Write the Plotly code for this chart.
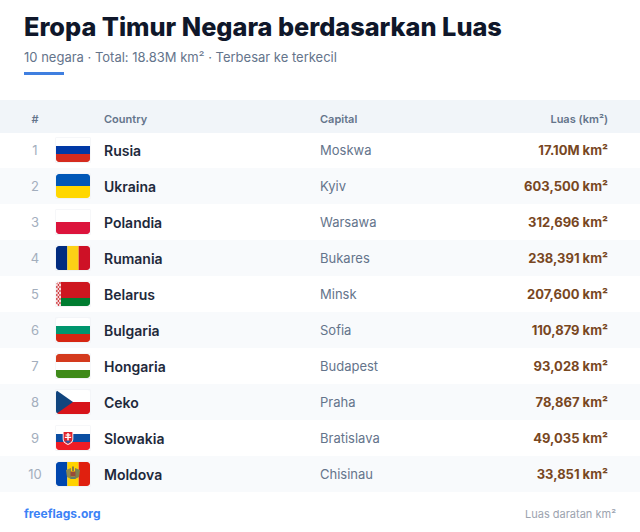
import plotly.graph_objects as go

# ---- data ----
ranks = [1, 2, 3, 4, 5, 6, 7, 8, 9, 10]
countries = ["Rusia", "Ukraina", "Polandia", "Rumania", "Belarus", "Bulgaria", "Hongaria", "Ceko", "Slowakia", "Moldova"]
capitals = ["Moskwa", "Kyiv", "Warsawa", "Bukares", "Minsk", "Sofia", "Budapest", "Praha", "Bratislava", "Chisinau"]
areas = ["17.10M km²", "603,500 km²", "312,696 km²", "238,391 km²", "207,600 km²", "110,879 km²", "93,028 km²", "78,867 km²", "49,035 km²", "33,851 km²"]
headers = ["#", "Country", "Capital", "Luas (km²)"]
title = "Eropa Timur Negara berdasarkan Luas"
subtitle = "10 negara · Total: 18.83M km² · Terbesar ke terkecil"
source = "freeflags.org"
note = "Luas daratan km²"

# stripes: (orientation, colours)
flag_stripes = {
    "Rusia": ("h", ["#ffffff", "#0039a6", "#d52b1e"]),
    "Ukraina": ("h", ["#0057b7", "#ffd700"]),
    "Polandia": ("h", ["#ffffff", "#dc143c"]),
    "Rumania": ("v", ["#002b7f", "#fcd116", "#ce1126"]),
    "Belarus": ("h", ["#ce1720", "#ce1720", "#007c30"]),
    "Bulgaria": ("h", ["#ffffff", "#00966e", "#d62612"]),
    "Hongaria": ("h", ["#d43a1e", "#ffffff", "#3f8a1a"]),
    "Ceko": ("h", ["#ffffff", "#d7141a"]),
    "Slowakia": ("h", ["#ffffff", "#0b4ea2", "#ee1c25"]),
    "Moldova": ("v", ["#0046ae", "#ffd200", "#e0200f"]),
}

W, H = 640, 532
ROW0, ROWH = 150, 36
FX0, FW, FH = 56, 34, 24
shapes = []


def rect(x0, y0, x1, y1, color):
    shapes.append(dict(type="rect", xref="x", yref="y", x0=x0, y0=y0, x1=x1, y1=y1,
                       fillcolor=color, line=dict(width=0), layer="below"))


def path(d, color):
    shapes.append(dict(type="path", xref="x", yref="y", path=d, fillcolor=color,
                       line=dict(width=0), layer="below"))


def poly(pts, color):
    path("M " + " L ".join(f"{x},{y}" for x, y in pts) + " Z", color)


def row_y(i):
    return ROW0 + ROWH * i


# page furniture
rect(24, 72, 64, 75, "#3f7fe0")
rect(0, 100, W, 133, "#f1f5f9")
for i in range(10):
    if i % 2 == 1:
        rect(0, row_y(i) - 18, W, row_y(i) + 18, "#f8fafc")


def corners(x0, y0, x1, y1, bg, r=3):
    k = r * 0.45
    path(f"M {x0},{y0} L {x0+r},{y0} C {x0+k},{y0} {x0},{y0+k} {x0},{y0+r} Z", bg)
    path(f"M {x1},{y0} L {x1-r},{y0} C {x1-k},{y0} {x1},{y0+k} {x1},{y0+r} Z", bg)
    path(f"M {x0},{y1} L {x0+r},{y1} C {x0+k},{y1} {x0},{y1-k} {x0},{y1-r} Z", bg)
    path(f"M {x1},{y1} L {x1-r},{y1} C {x1-k},{y1} {x1},{y1-k} {x1},{y1-r} Z", bg)


for i, name in enumerate(countries):
    cy = row_y(i)
    y0, y1 = cy - FH / 2, cy + FH / 2
    x0, x1 = FX0, FX0 + FW
    bg = "#f8fafc" if i % 2 else "#ffffff"
    # soft shadow
    rect(x0 - 0.5, y0 - 0.5, x1 + 0.5, y1 + 0.8, "#eef0f3")
    orient, cols = flag_stripes[name]
    n = len(cols)
    for j, c in enumerate(cols):
        if orient == "h":
            rect(x0, y0 + FH * j / n, x1, y0 + FH * (j + 1) / n, c)
        else:
            rect(x0 + FW * j / n, y0, x0 + FW * (j + 1) / n, y1, c)
    if name == "Belarus":
        rect(x0, y0, x0 + 5, y1, "#f6dcdc")
        for k in range(12):
            for m in range(3):
                if (k + m) % 2 == 0:
                    rect(x0 + 0.2 + m * 1.55, y0 + k * 2, x0 + 1.5 + m * 1.55, y0 + (k + 1) * 2, "#cf3a40")
    if name == "Ceko":
        poly([(x0, y0), (x0 + 17, cy), (x0, y1)], "#11457e")
    if name == "Slowakia":
        sx = x0 + 12
        path(f"M {sx-5.3},{cy-7} L {sx+5.3},{cy-7} L {sx+5.3},{cy+1} C {sx+5.3},{cy+4.5} {sx+2},{cy+6} {sx},{cy+7} "
             f"C {sx-2},{cy+6} {sx-5.3},{cy+4.5} {sx-5.3},{cy+1} Z", "#ffffff")
        path(f"M {sx-4.4},{cy-6.1} L {sx+4.4},{cy-6.1} L {sx+4.4},{cy+1} C {sx+4.4},{cy+3.8} {sx+2},{cy+5} {sx},{cy+6} "
             f"C {sx-2},{cy+5} {sx-4.4},{cy+3.8} {sx-4.4},{cy+1} Z", "#e0242c")
        rect(sx - 0.7, cy - 5, sx + 0.7, cy + 2.5, "#ffffff")
        rect(sx - 2.4, cy - 3.6, sx + 2.4, cy - 2.4, "#ffffff")
        rect(sx - 3.2, cy - 1.2, sx + 3.2, cy, "#ffffff")
        path(f"M {sx-3.4},{cy+2.8} L {sx+3.4},{cy+2.8} L {sx},{cy+5.6} Z", "#2a5aa8")
    if name == "Moldova":
        mx = x0 + FW / 2
        poly([(mx - 7, cy - 4), (mx - 2, cy - 6), (mx - 2, cy + 5), (mx - 6, cy + 3)], "#8f8a4c")
        poly([(mx + 7, cy - 4), (mx + 2, cy - 6), (mx + 2, cy + 5), (mx + 6, cy + 3)], "#7f8250")
        rect(mx - 2.5, cy - 2.5, mx + 2.5, cy + 2.5, "#9a4a38")
        rect(mx - 2.5, cy + 2.5, mx + 2.5, cy + 5, "#5f7f70")
        rect(mx - 1, cy - 7.5, mx + 1, cy - 3, "#8c7a44")
    corners(x0, y0, x1, y1, bg)

TEXT_DY = 1.5
row_ys = [row_y(i) + TEXT_DY for i in range(10)]


def col(xs, ys, texts, pos, size, color, weight=400):
    return go.Scatter(x=xs, y=ys, text=texts, mode="text", textposition=pos, hoverinfo="skip",
                      showlegend=False, cliponaxis=False,
                      textfont=dict(family="Inter", size=size, color=color, weight=weight))


fig = go.Figure()
fig.add_trace(col([35] * 10, row_ys, [str(r) for r in ranks], "middle center", 13, "#a3aebd"))
fig.add_trace(col([104] * 10, [y + 0.5 for y in row_ys], countries, "middle right", 14, "#1e293b", 600))
fig.add_trace(col([320] * 10, row_ys, capitals, "middle right", 13, "#64748b"))
fig.add_trace(col([608] * 10, row_ys, areas, "middle left", 13, "#78471f", 700))
fig.add_trace(col([35], [120], [headers[0]], "middle center", 11, "#64748b", 600))
fig.add_trace(col([104], [120], [headers[1]], "middle right", 11, "#64748b", 600))
fig.add_trace(col([320], [120], [headers[2]], "middle right", 11, "#64748b", 600))
fig.add_trace(col([608], [120], [headers[3]], "middle left", 11, "#64748b", 600))
fig.add_trace(col([24], [30], [title], "middle right", 25.3, "#0f172a", 800))
fig.add_trace(col([24], [58.5], [subtitle], "middle right", 13, "#64748b"))
fig.add_trace(col([24], [515], [source], "middle right", 12, "#3b82f6", 700))
fig.add_trace(col([616], [515], [note], "middle left", 11, "#9ca3af"))

fig.update_layout(
    width=W, height=H, margin=dict(l=0, r=0, t=0, b=0),
    paper_bgcolor="#ffffff", plot_bgcolor="#ffffff", shapes=shapes,
    xaxis=dict(range=[0, W], visible=False, fixedrange=True),
    yaxis=dict(range=[H, 0], visible=False, fixedrange=True),
)
fig.write_html("out.html", config={"displayModeBar": False},
               post_script="document.body.style.margin='0';")
